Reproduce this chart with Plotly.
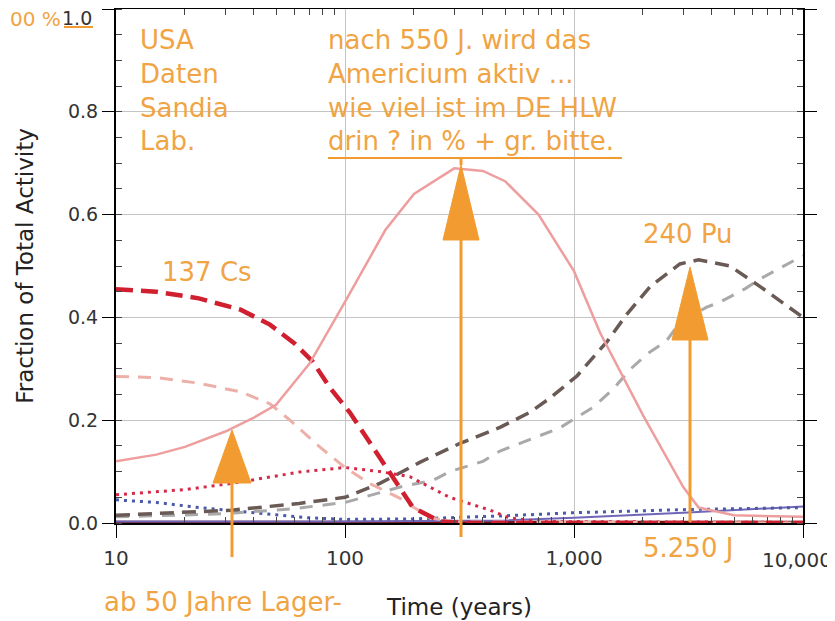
import plotly.graph_objects as go

# ---------------- data ----------------
t_am = [10, 15, 20, 30, 40, 50, 70, 100, 150, 200, 300, 400, 500, 700, 1000, 1300, 2000, 3000, 3500, 5000, 10000]
am241 = [0.12, 0.133, 0.148, 0.178, 0.205, 0.23, 0.31, 0.43, 0.57, 0.64, 0.69, 0.685, 0.665, 0.6, 0.49, 0.37, 0.21, 0.07, 0.03, 0.015, 0.012]

t_cs = [10, 15, 23, 35, 47, 60, 72, 86, 105, 142, 198, 260, 350, 10000]
cs137 = [0.455, 0.45, 0.437, 0.415, 0.386, 0.35, 0.315, 0.263, 0.215, 0.128, 0.03, 0.003, 0.0, 0.0]

t_sr = [10, 15, 23, 35, 47, 57.5, 78, 100, 128, 174, 235, 300, 10000]
sr90 = [0.285, 0.283, 0.272, 0.255, 0.232, 0.2, 0.147, 0.108, 0.077, 0.048, 0.01, 0.002, 0.0]

t_rd = [10, 15, 20, 32, 45, 63, 100, 142, 192, 286, 430, 520, 700, 10000]
red_dot = [0.055, 0.06, 0.065, 0.077, 0.088, 0.099, 0.108, 0.1, 0.09, 0.05, 0.025, 0.01, 0.003, 0.001]

t_bd = [10, 15, 23, 35, 50, 70, 100, 200, 500, 1000, 3000, 10000]
blue_dot = [0.045, 0.04, 0.03, 0.022, 0.015, 0.01, 0.007, 0.008, 0.014, 0.02, 0.026, 0.03]

t_p40 = [10, 20, 32, 63, 100, 142, 212, 318, 475, 640, 785, 1030, 1400, 1700, 2150, 2900, 3500, 4800, 6500, 10000]
pu240 = [0.015, 0.02, 0.025, 0.038, 0.05, 0.077, 0.118, 0.155, 0.186, 0.215, 0.243, 0.286, 0.354, 0.406, 0.46, 0.504, 0.512, 0.5, 0.46, 0.40]

t_p39 = [10, 30, 60, 100, 174, 242, 287, 400, 475, 710, 867, 1210, 1480, 1770, 2100, 2530, 2900, 3800, 4350, 5600, 6500, 10000]
pu239 = [0.012, 0.018, 0.028, 0.04, 0.07, 0.083, 0.1, 0.12, 0.14, 0.17, 0.185, 0.225, 0.26, 0.3, 0.33, 0.354, 0.39, 0.42, 0.43, 0.456, 0.475, 0.52]

t_low = [10, 100, 500, 1000, 3000, 5000, 10000]
purple_solid = [0.003, 0.003, 0.005, 0.01, 0.02, 0.025, 0.032]
darkred_solid = [0.002, 0.002, 0.002, 0.002, 0.002, 0.002, 0.002]

x_tickvals = [10, 100, 1000, 10000]
x_ticktext = ["10", "100", "1,000", ""]          # last label drawn as an edge-aligned annotation
y_tickvals = [0.0, 0.2, 0.4, 0.6, 0.8, 1.0]
y_ticktext = ["0.0", "0.2", "0.4", "0.6", "0.8", ""]  # top label drawn as an annotation
x_minor = [20, 30, 40, 50, 60, 70, 80, 90, 200, 300, 400, 500, 600, 700, 800, 900,
           2000, 3000, 4000, 5000, 6000, 7000, 8000, 9000]

ORANGE = "#F29B30"
TXT = "#F0A443"
OFONT = "DejaVu Sans, Open Sans, sans-serif"
AFONT = "DejaVu Sans, Liberation Sans, sans-serif"

# ---------------- figure ----------------
fig = go.Figure()
fig.add_trace(go.Scatter(x=t_low, y=darkred_solid, mode="lines", line=dict(color="#7A1010", width=2.5)))
fig.add_trace(go.Scatter(x=t_low, y=purple_solid, mode="lines", line=dict(color="#7066B8", width=2)))
fig.add_trace(go.Scatter(x=t_bd, y=blue_dot, mode="lines", line=dict(color="#4A5AAA", width=3, dash="3px,5px")))
fig.add_trace(go.Scatter(x=t_p39, y=pu239, mode="lines", line=dict(color="#A9A9A9", width=3, dash="13px,10px")))
fig.add_trace(go.Scatter(x=t_p40, y=pu240, mode="lines", line=dict(color="#6A5A55", width=3.5, dash="14px,8px")))
fig.add_trace(go.Scatter(x=t_rd, y=red_dot, mode="lines", line=dict(color="#D42A48", width=3, dash="3px,5px")))
fig.add_trace(go.Scatter(x=t_sr, y=sr90, mode="lines", line=dict(color="#EDB0A8", width=3, dash="13px,9px")))
fig.add_trace(go.Scatter(x=t_cs, y=cs137, mode="lines", line=dict(color="#D02030", width=4.5, dash="17px,8px")))
fig.add_trace(go.Scatter(x=t_am, y=am241, mode="lines", line=dict(color="#EE9E9E", width=2.5)))

# page body has an 8px margin: figure is sized to fit the window behind it
OFF = 8
W, H = 835 - OFF, 621 - OFF
PLOT_L, PLOT_R, PLOT_T, PLOT_B = 116, 803, 9, 523          # plot box in window pixels
L, R, T, B = PLOT_L - OFF, W - (PLOT_R - OFF), PLOT_T - OFF, H - (PLOT_B - OFF)
PW, PH = PLOT_R - PLOT_L, PLOT_B - PLOT_T


def px(x):
    return (x - PLOT_L) / PW


def py(y):
    return (PLOT_B - y) / PH


shapes = []
for (xc, ybot, ybase, ytip, half) in [(232, 557, 483, 430, 19), (461, 537, 240, 165, 18), (690, 522, 340, 267, 18)]:
    shapes.append(dict(type="line", xref="paper", yref="paper", x0=px(xc), x1=px(xc), y0=py(ybot), y1=py(ybase),
                       line=dict(color=ORANGE, width=3)))
    path = "M {},{} L {},{} L {},{} Z".format(px(xc - half), py(ybase), px(xc + half), py(ybase), px(xc), py(ytip))
    shapes.append(dict(type="path", xref="paper", yref="paper", path=path, fillcolor=ORANGE,
                       line=dict(color=ORANGE, width=1)))
shapes.append(dict(type="line", xref="paper", yref="paper", x0=px(461), x1=px(461), y0=py(165), y1=py(158),
                   line=dict(color=ORANGE, width=3)))
shapes.append(dict(type="line", xref="paper", yref="paper", x0=px(328), x1=px(622), y0=py(158), y1=py(158),
                   line=dict(color=ORANGE, width=2)))
shapes.append(dict(type="line", xref="paper", yref="paper", x0=px(64), x1=px(93), y0=py(27), y1=py(27),
                   line=dict(color=ORANGE, width=2)))

annotations = []


def add_text(text, x, y, size=26):
    annotations.append(dict(text=text, xref="paper", yref="paper", x=px(x), y=py(y), xanchor="left",
                            yanchor="middle", showarrow=False, align="left",
                            font=dict(family=OFONT, size=size, color=TXT)))


add_text("USA<br>Daten<br>Sandia<br>Lab.", 138, 90)
add_text("nach 550 J. wird das<br>Americium aktiv ...<br>wie viel ist im DE HLW<br>drin ? in % + gr. bitte.", 326, 90)
add_text("00 %", 8, 19, size=20)
add_text("137 Cs", 160, 272)
add_text("240 Pu", 641, 234)
add_text("5.250 J", 641, 548)
add_text("ab 50 Jahre Lager-", 102, 602)

# edge tick labels (kept inside the window)
annotations.append(dict(text="1.0", xref="paper", x=px(94), xanchor="right",
                        yref="y", y=y_tickvals[-1], yanchor="middle", yshift=-9, showarrow=False,
                        font=dict(family=AFONT, size=19, color="#333333")))
annotations.append(dict(text="10,000", xref="x", x=4, xanchor="right", xshift=31,
                        yref="paper", y=py(560), yanchor="middle", showarrow=False,
                        font=dict(family=AFONT, size=20, color="#333333")))

fig.update_layout(
    width=W, height=H,
    margin=dict(l=L, r=R, t=T, b=B, autoexpand=False),
    paper_bgcolor="white", plot_bgcolor="white",
    showlegend=False,
    shapes=shapes,
    annotations=annotations,
    font=dict(family=AFONT, color="#333333", size=20),
)
fig.update_xaxes(
    type="log", range=[1, 4], automargin=False,
    tickvals=x_tickvals, ticktext=x_ticktext,
    showline=True, linecolor="black", linewidth=2, mirror="allticks",
    ticks="outside", ticklen=13, tickcolor="black", tickwidth=1,
    ticklabelstandoff=3,
    showgrid=True, gridcolor="#C4C4C4", gridwidth=1,
    zeroline=False,
    minor=dict(tickvals=x_minor, ticks="inside", ticklen=6, tickcolor="#444444", showgrid=False),
    tickfont=dict(family=AFONT, size=20, color="#333333"),
    title=dict(text="Time (years)", font=dict(family=AFONT, size=23, color="#222222"), standoff=30),
)
fig.update_yaxes(
    range=[0, 1.0], automargin=False,
    tickvals=y_tickvals, ticktext=y_ticktext,
    showline=True, linecolor="black", linewidth=2, mirror="allticks",
    ticks="outside", ticklen=12, tickcolor="black", tickwidth=1,
    showgrid=True, gridcolor="#C4C4C4", gridwidth=1,
    zeroline=False,
    minor=dict(dtick=0.05, ticks="inside", ticklen=6, tickcolor="#444444", showgrid=False),
    tickfont=dict(family=AFONT, size=19, color="#333333"),
    title=dict(text="Fraction of Total Activity", font=dict(family=AFONT, size=23, color="#222222"), standoff=28),
)

fig.write_html("out.html")
